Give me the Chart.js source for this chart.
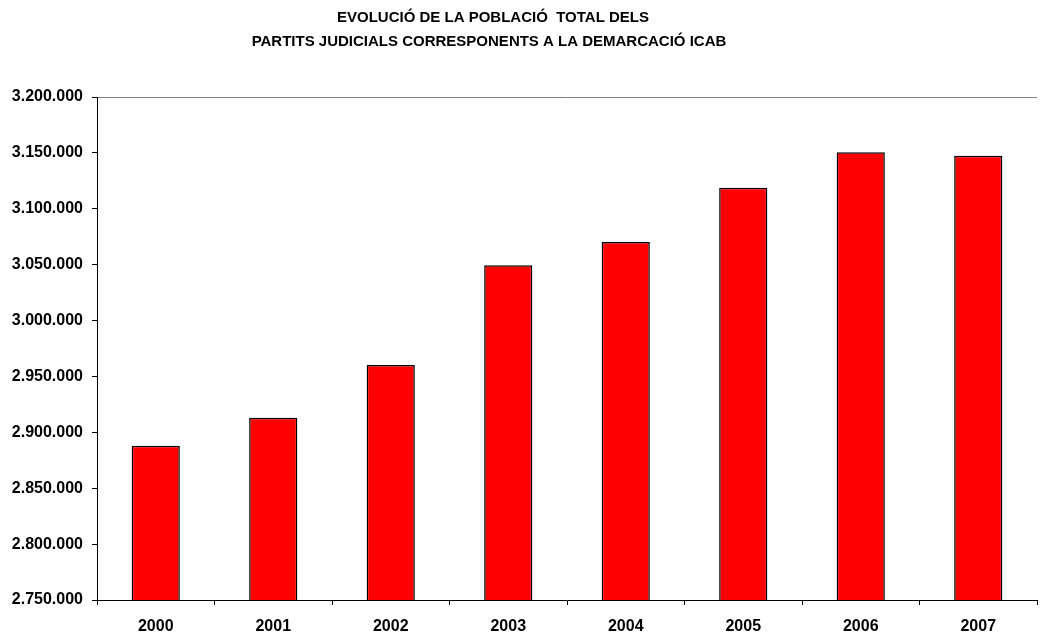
<!DOCTYPE html>
<html>
<head>
<meta charset="utf-8">
<script src="https://cdn.jsdelivr.net/npm/chart.js@4"></script>
<style>
  html, body { margin: 0; padding: 0; background: #fff; }
  #wrap { width: 1044px; height: 633px; }
</style>
</head>
<body>
<div id="wrap"><canvas id="grafic"></canvas></div>
<script>
const anys = ['2000', '2001', '2002', '2003', '2004', '2005', '2006', '2007'];
const poblacio = [2888000, 2913100, 2960300, 3049400, 3070300, 3118900, 3150500, 3147500];
const titol = ['EVOLUCIÓ DE LA POBLACIÓ  TOTAL DELS', 'PARTITS JUDICIALS CORRESPONENTS A LA DEMARCACIÓ ICAB'];

const font = 'Liberation Sans, Arial, sans-serif';

// títol dibuixat a mà per poder-lo centrar on toca
const titolPlugin = {
  id: 'titol',
  afterDraw(chart) {
    const c = chart.ctx;
    c.save();
    c.fillStyle = '#000';
    c.font = 'bold 15px ' + font;
    c.textAlign = 'center';
    c.textBaseline = 'middle';
    c.fillText(titol[0], 493, 18);
    c.fillText(titol[1], 489, 42);
    c.restore();
  }
};

const fmt = v => v.toLocaleString('de-DE');

new Chart(document.getElementById('grafic'), {
  type: 'bar',
  data: {
    labels: anys,
    datasets: [{
      data: poblacio,
      backgroundColor: '#ff0000',
      borderColor: '#000',
      borderWidth: 1.5,
      borderSkipped: false,
      categoryPercentage: 1,
      barPercentage: 0.41
    }]
  },
  options: {
    responsive: true,
    maintainAspectRatio: false,
    animation: false,
    layout: { padding: { top: 97, right: 7, left: 0, bottom: 0 } },
    plugins: { legend: { display: false }, tooltip: { enabled: false } },
    scales: {
      x: {
        grid: { offset: true, drawOnChartArea: false, tickLength: 5, tickColor: '#000' },
        border: { color: '#000' },
        ticks: { color: '#000', font: { family: font, size: 16, weight: 'bold' }, padding: 12 },
        afterFit: s => { s.height = 33; }
      },
      y: {
        min: 2750000,
        max: 3200000,
        grid: {
          color: ctx => ctx.tick && ctx.tick.value === 3200000 ? '#808080' : 'transparent',
          tickColor: '#000',
          tickLength: 5
        },
        border: { color: '#000' },
        ticks: {
          stepSize: 50000,
          color: '#000',
          padding: 9,
          font: { family: font, size: 16, weight: 'bold' },
          callback: v => fmt(v)
        },
        afterFit: s => { s.width = 97; }
      }
    }
  },
  plugins: [titolPlugin]
});
</script>
</body>
</html>
